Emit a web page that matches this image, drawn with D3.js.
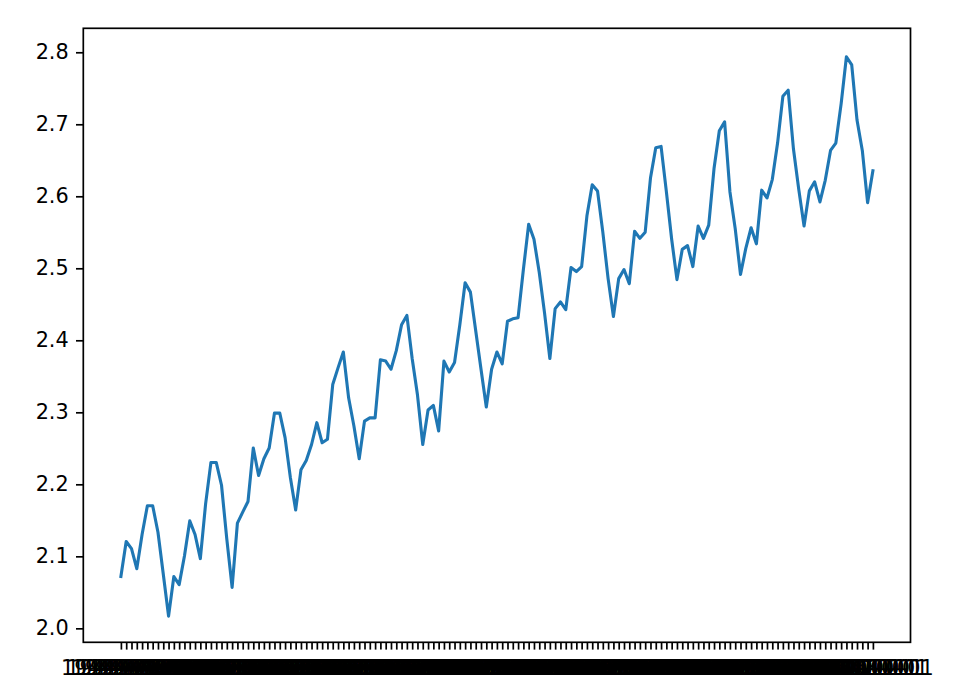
<!DOCTYPE html>
<html lang="en">
<head>
    <meta charset="UTF-8">
    <title>log passengers</title>
    <script src="https://d3js.org/d3.v7.min.js"></script>
    <style>
        body { margin: 0; background: #fff; }
        text { font-family: "DejaVu Sans", sans-serif; }
    </style>
</head>
<body>
<svg width="978" height="692"></svg>
<script>
    // log10 of monthly passengers, 1949-02 .. 1960-12
    var values = [
        2.0719, 2.1206, 2.1106, 2.0828, 2.1303, 2.1703, 2.1703, 2.1335, 2.0755, 2.0170, 2.0719,
        2.0607, 2.1004, 2.1492, 2.1303, 2.0969, 2.1732, 2.2304, 2.2304, 2.1987, 2.1239, 2.0569, 2.1461,
        2.1614, 2.1761, 2.2504, 2.2122, 2.2355, 2.2504, 2.2989, 2.2989, 2.2648, 2.2095, 2.1644, 2.2201,
        2.2330, 2.2553, 2.2856, 2.2577, 2.2625, 2.3385, 2.3617, 2.3838, 2.3201, 2.2810, 2.2355, 2.2878,
        2.2923, 2.2923, 2.3729, 2.3711, 2.3598, 2.3856, 2.4216, 2.4346, 2.3747, 2.3243, 2.2553, 2.3032,
        2.3096, 2.2742, 2.3711, 2.3560, 2.3692, 2.4216, 2.4800, 2.4669, 2.4133, 2.3598, 2.3075, 2.3598,
        2.3838, 2.3674, 2.4265, 2.4298, 2.4314, 2.4983, 2.5611, 2.5403, 2.4942, 2.4378, 2.3747, 2.4440,
        2.4533, 2.4425, 2.5011, 2.4955, 2.5024, 2.5729, 2.6160, 2.6075, 2.5502, 2.4857, 2.4330, 2.4857,
        2.4983, 2.4786, 2.5514, 2.5416, 2.5502, 2.6253, 2.6675, 2.6693, 2.6064, 2.5403, 2.4843, 2.5263,
        2.5315, 2.5024, 2.5587, 2.5416, 2.5599, 2.6385, 2.6911, 2.7033, 2.6064, 2.5551, 2.4914, 2.5276,
        2.5563, 2.5340, 2.6085, 2.5977, 2.6232, 2.6739, 2.7388, 2.7474, 2.6656, 2.6096, 2.5587, 2.6075,
        2.6201, 2.5922, 2.6222, 2.6637, 2.6739, 2.7284, 2.7938, 2.7825, 2.7059, 2.6637, 2.5911, 2.6355
    ];
    var yTicks = [2.0, 2.1, 2.2, 2.3, 2.4, 2.5, 2.6, 2.7, 2.8];
    var yLimits = [1.9806, 2.8333];
    // one category label per month
    var months = d3.timeMonth.range(new Date(1949, 1, 1), new Date(1961, 0, 1));
    var labels = months.map(d3.timeFormat("%Y-%m-%d"));

    var svg = d3.select("svg");
    var plotL = 83.3, plotR = 910.5, plotT = 28.3, plotB = 642.3;
    var fs = 20.8;

    var n = values.length - 1;
    var x = d3.scaleLinear()
        .domain([-0.05 * n, n * 1.05])
        .range([plotL, plotR]);

    var y = d3.scaleLinear()
        .domain(yLimits)
        .range([plotB, plotT]);

    // y axis
    var ya = svg.append("g")
        .attr("transform", "translate(" + plotL + ",0)")
        .call(d3.axisLeft(y).tickValues(yTicks).tickFormat(d3.format(".1f"))
            .tickSize(7.3).tickPadding(7.3));
    ya.select(".domain").remove();
    ya.selectAll("line").attr("stroke", "#000").attr("stroke-width", 1.7);
    ya.selectAll("text").attr("font-size", fs).attr("fill", "#000")
        .attr("font-family", "DejaVu Sans, sans-serif");

    // x axis, a tick for every month
    var xa = svg.append("g")
        .attr("transform", "translate(0," + plotB + ")")
        .call(d3.axisBottom(x).tickValues(d3.range(values.length))
            .tickFormat(function(i) { return labels[i]; })
            .tickSize(7.3).tickPadding(10.8));
    xa.select(".domain").remove();
    xa.selectAll("line").attr("stroke", "#000").attr("stroke-width", 1.7);
    xa.selectAll("text").attr("font-size", fs).attr("fill", "#000")
        .attr("font-family", "DejaVu Sans, sans-serif");

    // the line
    var line = d3.line()
        .x(function(d, i) { return x(i); })
        .y(function(d) { return y(d); });

    svg.append("path")
        .datum(values)
        .attr("d", line)
        .attr("fill", "none")
        .attr("stroke", "#1f77b4")
        .attr("stroke-width", 3.1)
        .attr("stroke-linejoin", "round")
        .attr("stroke-linecap", "square");

    // frame
    svg.append("rect")
        .attr("x", plotL).attr("y", plotT)
        .attr("width", plotR - plotL).attr("height", plotB - plotT)
        .attr("fill", "none")
        .attr("stroke", "#000")
        .attr("stroke-width", 1.7);
</script>
</body>
</html>
